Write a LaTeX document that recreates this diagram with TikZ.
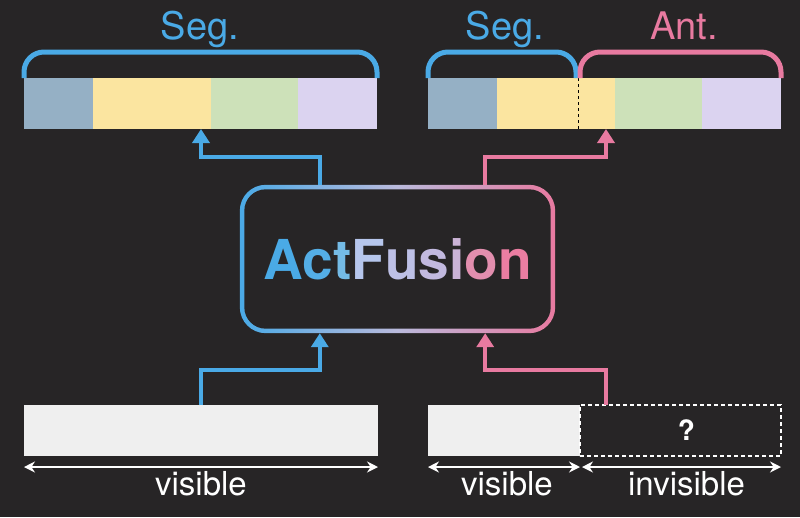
\documentclass[tikz,border=0pt]{standalone}
\usepackage{fontspec}
\setmainfont{TeX Gyre Heros}
\usetikzlibrary{positioning,arrows.meta,calc}
\definecolor{bgColor}{RGB}{39,37,38}
\definecolor{blueC}{RGB}{74,170,230}
\definecolor{pinkC}{RGB}{232,122,160}
\definecolor{midC}{RGB}{186,186,220}
\definecolor{segBlue}{RGB}{149,176,197}
\definecolor{segYellow}{RGB}{251,229,160}
\definecolor{segGreen}{RGB}{205,225,185}
\definecolor{segLav}{RGB}{219,211,240}
\definecolor{lightBar}{RGB}{239,239,239}
\definecolor{actA}{RGB}{74,170,230}
\definecolor{actC}{RGB}{84,174,230}
\definecolor{actT}{RGB}{116,187,230}
\definecolor{actF}{RGB}{182,198,236}
\definecolor{actU}{RGB}{189,192,230}
\definecolor{actS}{RGB}{194,185,223}
\definecolor{actI}{RGB}{203,179,214}
\definecolor{actO}{RGB}{226,142,174}
\definecolor{actN}{RGB}{236,125,162}
\tikzstyle{diagram} = [x=1pt, y=-1pt]
\tikzstyle{segBox} = [inner sep=0pt, outer sep=0pt, minimum height=51pt]
\tikzstyle{braceLine} = [line width=5pt, rounded corners=20pt]
\tikzstyle{flowLine} = [line width=4.5pt, -{Triangle[width=17pt,length=14pt]}]
\tikzstyle{spanArrow} = [white, line width=1.5pt, {Stealth[length=11pt,width=11pt]}-{Stealth[length=11pt,width=11pt]}]
\tikzstyle{headText} = [font=\fontsize{38}{40}\selectfont, anchor=base]
\tikzstyle{spanText} = [text=white, font=\fontsize{33}{36}\selectfont, anchor=base]
\newcommand{\fusionLetter}[2]{\textcolor{#1}{#2}}
\begin{document}
\begin{tikzpicture}[diagram]
  \fill[bgColor] (0,0) rectangle (800,517);
  \useasboundingbox (0,0) rectangle (800,517);

  % top left bar: segmentation
  \node[segBox, fill=segBlue, minimum width=69pt, anchor=north west] (segLa) at (24,78) {};
  \node[segBox, fill=segYellow, minimum width=118pt, right=0pt of segLa] (segLb) {};
  \node[segBox, fill=segGreen, minimum width=87pt, right=0pt of segLb] (segLc) {};
  \node[segBox, fill=segLav, minimum width=79pt, right=0pt of segLc] (segLd) {};
  \draw[braceLine, blueC] (segLa.north west) -- ++(0,-26) -| (segLd.north east);
  \node[headText, text=blueC] (segTitleL) at (200,39) {Seg.};

  % top right bar: segmentation + anticipation
  \node[segBox, fill=segBlue, minimum width=69pt, anchor=north west] (segRa) at (428,78) {};
  \node[segBox, fill=segYellow, minimum width=118pt, right=0pt of segRa] (segRb) {};
  \node[segBox, fill=segGreen, minimum width=87pt, right=0pt of segRb] (segRc) {};
  \node[segBox, fill=segLav, minimum width=79pt, right=0pt of segRc] (segRd) {};
  \draw[black, dashed, line width=1pt] ([xshift=81pt]segRb.north west) -- ([xshift=81pt]segRb.south west);
  \draw[braceLine, blueC] (segRa.north west) -- ++(0,-26) -| ([xshift=79pt]segRb.north west);
  \draw[braceLine, pinkC] ([xshift=83pt]segRb.north west) -- ++(0,-26) -| (segRd.north east);
  \node[headText, text=blueC] (segTitleR) at (505,39) {Seg.};
  \node[headText, text=pinkC] (antTitle) at (684,39) {Ant.};

  % model box
  \node[minimum width=315pt, minimum height=148pt, inner sep=0pt] (fusionBox) at (397.5,259) {};
  \shade[left color=blueC, right color=pinkC, middle color=midC, rounded corners=26pt]
    (fusionBox.south west) rectangle (fusionBox.north east);
  \fill[bgColor, rounded corners=21.5pt] ([shift={(4.5pt,4.5pt)}]fusionBox.south west)
    rectangle ([shift={(-4.5pt,-4.5pt)}]fusionBox.north east);
  \node[font=\bfseries\fontsize{55}{60}\selectfont] (fusionText) at (fusionBox.center)
    {\fusionLetter{actA}{A}\fusionLetter{actC}{c}\fusionLetter{actT}{t}\fusionLetter{actF}{F}\fusionLetter{actU}{u}\fusionLetter{actS}{s}\fusionLetter{actI}{i}\fusionLetter{actO}{o}\fusionLetter{actN}{n}};

  % bottom inputs
  \node[segBox, fill=lightBar, minimum width=354pt, anchor=north west] (visL) at (24,405) {};
  \node[segBox, fill=lightBar, minimum width=152pt, anchor=north west] (visR) at (428,405) {};
  \node[segBox, draw=white, dash pattern=on 4pt off 3pt, line width=1.5pt, minimum width=201pt, right=0pt of visR] (invisR) {};
  \node[font=\bfseries\fontsize{28}{30}\selectfont, text=white] (unknownMark) at ([xshift=6pt]invisR.center) {?};
  \coordinate (invisSrc) at ([xshift=26pt]invisR.north west);

  \draw[spanArrow] ([yshift=-11pt]visL.south west) -- ([yshift=-11pt]visL.south east);
  \draw[spanArrow] ([yshift=-11pt]visR.south west) -- ([yshift=-11pt]visR.south east);
  \draw[spanArrow] ([xshift=2pt,yshift=-11pt]invisR.south west) -- ([yshift=-11pt]invisR.south east);
  \node[spanText] (visTextL) at ([yshift=-39pt]visL.south) {visible};
  \node[spanText] (visTextR) at ([xshift=3pt,yshift=-39pt]visR.south) {visible};
  \node[spanText] (invisText) at ([xshift=6pt,yshift=-39pt]invisR.south) {invisible};

  % connectors
  \draw[flowLine, blueC] (visL.north) -- ++(0,-35) -| ([xshift=80pt]fusionBox.south west);
  \draw[flowLine, pinkC] (invisSrc) -- ++(0,-35) -| ([xshift=-70pt]fusionBox.south east);
  \draw[flowLine, blueC] ([xshift=80pt]fusionBox.north west) -- ++(0,-28) -| (segLb.south -| visL.north);
  \draw[flowLine, pinkC] ([xshift=-70pt]fusionBox.north east) -- ++(0,-28) -| (segRb.south -| invisSrc);
\end{tikzpicture}
\end{document}
